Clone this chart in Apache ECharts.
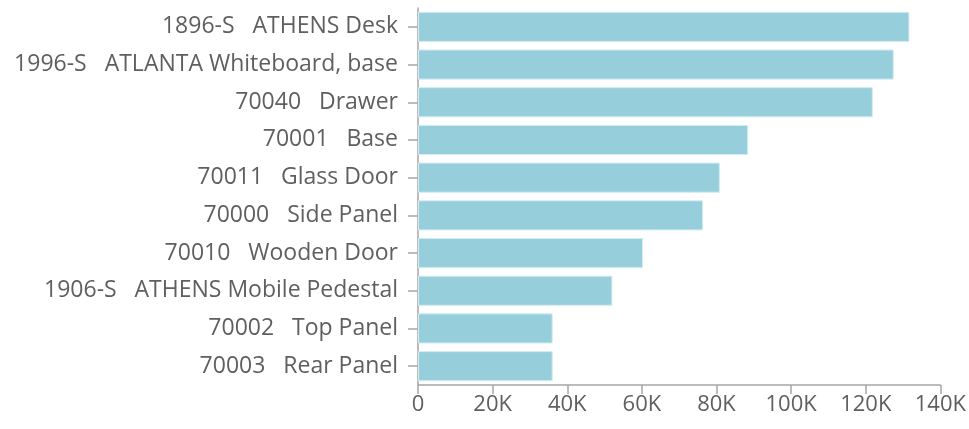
<!DOCTYPE html>
<html>
<head>
<meta charset="utf-8">
<script src="https://cdn.jsdelivr.net/npm/echarts@6/dist/echarts.min.js"></script>
<style>html,body{margin:0;padding:0;background:#fff;}#c{width:969px;height:429px;}</style>
</head>
<body>
<div id="c"></div>
<script>
var categories = [
  "1896-S   ATHENS Desk",
  "1996-S   ATLANTA Whiteboard, base",
  "70040   Drawer",
  "70001   Base",
  "70011   Glass Door",
  "70000   Side Panel",
  "70010   Wooden Door",
  "1906-S   ATHENS Mobile Pedestal",
  "70002   Top Panel",
  "70003   Rear Panel"
];
var values = [131700, 127500, 121900, 88500, 80900, 76400, 60300, 52100, 36100, 36100];
var xTicks = [0, 20000, 40000, 60000, 80000, 100000, 120000, 140000];

var chart = echarts.init(document.getElementById('c'), null, {renderer: 'canvas'});
var font = 'Open Sans';
chart.setOption({
  animation: false,
  grid: {left: 418, right: 28, top: 8, bottom: 44, containLabel: false},
  xAxis: {
    type: 'value',
    min: xTicks[0],
    max: xTicks[xTicks.length - 1],
    interval: xTicks[1] - xTicks[0],
    axisLine: {show: true, lineStyle: {color: '#a6a6a6', width: 1.5}},
    axisTick: {show: true, length: 9, lineStyle: {color: '#a6a6a6', width: 1.5}},
    splitLine: {show: false},
    axisLabel: {
      color: '#5f5f5f', fontFamily: font, fontSize: 22, margin: 9,
      formatter: function (v) { return v === 0 ? '0' : (v / 1000) + 'K'; }
    }
  },
  yAxis: {
    type: 'category',
    inverse: true,
    data: categories,
    axisLine: {show: true, lineStyle: {color: '#a6a6a6', width: 1.5}},
    axisTick: {show: true, length: 10, alignWithLabel: true, lineStyle: {color: '#a6a6a6', width: 1.5}},
    axisLabel: {color: '#5f5f5f', fontFamily: font, fontSize: 23, margin: 20}
  },
  series: [{
    type: 'bar',
    data: values,
    barCategoryGap: '20%',
    itemStyle: {color: '#96cfdb', borderColor: '#d4edf2', borderWidth: 1}
  }]
});
</script>
</body>
</html>
